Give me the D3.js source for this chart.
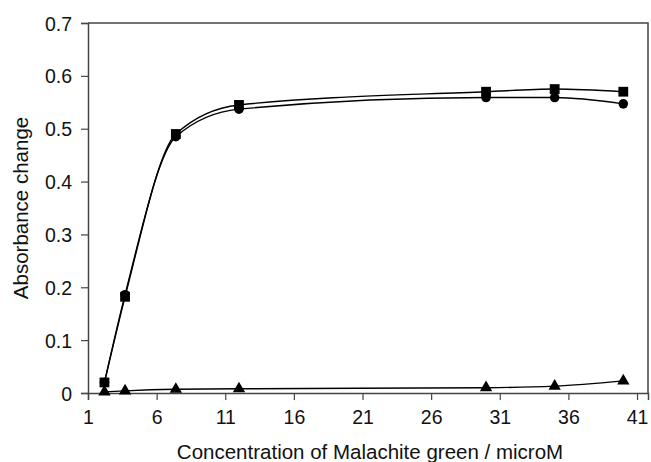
<!DOCTYPE html>
<html>
<head>
<meta charset="utf-8">
<script src="https://cdn.jsdelivr.net/npm/d3@7"></script>
<style>
  body { margin: 0; background: #fff; }
  text { font-family: "Liberation Sans", Arial, sans-serif; fill: #111; }
</style>
</head>
<body>
<div id="vis"></div>
<script>
var width = 651;
var height = 462;

// concentration of malachite green (microM)
var conc = [2.2, 3.7, 7.4, 12, 30, 35, 40];
var squareVals = [0.020, 0.182, 0.490, 0.545, 0.570, 0.575, 0.570];
var circleVals = [0.020, 0.186, 0.485, 0.537, 0.559, 0.559, 0.547];
var triangleVals = [0.002, 0.004, 0.007, 0.008, 0.010, 0.013, 0.023];
var xTicks = [1, 6, 11, 16, 21, 26, 31, 36, 41];
var yTicks = [0, 0.1, 0.2, 0.3, 0.4, 0.5, 0.6, 0.7];

var margin = { top: 23, right: 3, bottom: 69, left: 88 };

var svg = d3.select('#vis')
  .append('svg')
  .attr('width', width)
  .attr('height', height);

var x = d3.scaleLinear()
  .domain([1, 41.8])
  .range([margin.left, width - margin.right]);

var y = d3.scaleLinear()
  .domain([0, 0.7])
  .range([height - margin.bottom, margin.top]);

// frame (top and right sides)
svg.append('path')
  .attr('d', 'M' + x.range()[0] + ',' + y(0.7) + 'H' + x.range()[1] + 'V' + y(0))
  .attr('fill', 'none')
  .attr('stroke', '#444')
  .attr('stroke-width', 1.5);

var xAxis = svg.append('g')
  .attr('transform', 'translate(0,' + y(0) + ')')
  .call(d3.axisBottom(x).tickValues(xTicks).tickSize(7).tickPadding(10).tickFormat(d3.format('d')));

var yAxis = svg.append('g')
  .attr('transform', 'translate(' + margin.left + ',0)')
  .call(d3.axisLeft(y).tickValues(yTicks).tickSize(7).tickPadding(9)
    .tickFormat(function (d) { return d === 0 ? '0' : d3.format('.1f')(d); }));

[xAxis, yAxis].forEach(function (g) {
  g.select('.domain').attr('stroke', '#444').attr('stroke-width', 1.5);
  g.selectAll('.tick line').attr('stroke', '#444').attr('stroke-width', 1.2);
  g.selectAll('.tick text')
    .attr('font-size', 19.5)
    .attr('fill', '#111')
    .style('font-family', '"Liberation Sans", Arial, sans-serif');
});
yAxis.selectAll('.tick text').attr('dy', '0.36em');

// smoothed lines; monotone keeps the knee near 7-12 from overshooting
var line = d3.line()
  .x(function (d) { return x(d[0]); })
  .y(function (d) { return y(d[1]); })
  .curve(d3.curveMonotoneX);

var series = [
  { vals: circleVals, shape: d3.symbolCircle, size: 72 },
  { vals: squareVals, shape: d3.symbolSquare, size: 96 },
  { vals: triangleVals, shape: d3.symbolTriangle, size: 66 }
];

series.forEach(function (s) {
  var pts = conc.map(function (c, i) { return [c, s.vals[i]]; });

  svg.append('path')
    .datum(pts)
    .attr('fill', 'none')
    .attr('stroke', '#000')
    .attr('stroke-width', 1.4)
    .attr('d', line);

  svg.selectAll(null)
    .data(pts)
    .enter().append('path')
    .attr('transform', function (d) { return 'translate(' + x(d[0]) + ',' + y(d[1]) + ')'; })
    .attr('d', d3.symbol().type(s.shape).size(s.size))
    .attr('fill', '#000');
});

svg.append('text')
  .attr('x', 370)
  .attr('y', 459)
  .attr('text-anchor', 'middle')
  .attr('font-size', 20.5)
  .text('Concentration of Malachite green / microM');

svg.append('text')
  .attr('transform', 'translate(28,208) rotate(-90)')
  .attr('text-anchor', 'middle')
  .attr('font-size', 20.5)
  .text('Absorbance change');
</script>
</body>
</html>
